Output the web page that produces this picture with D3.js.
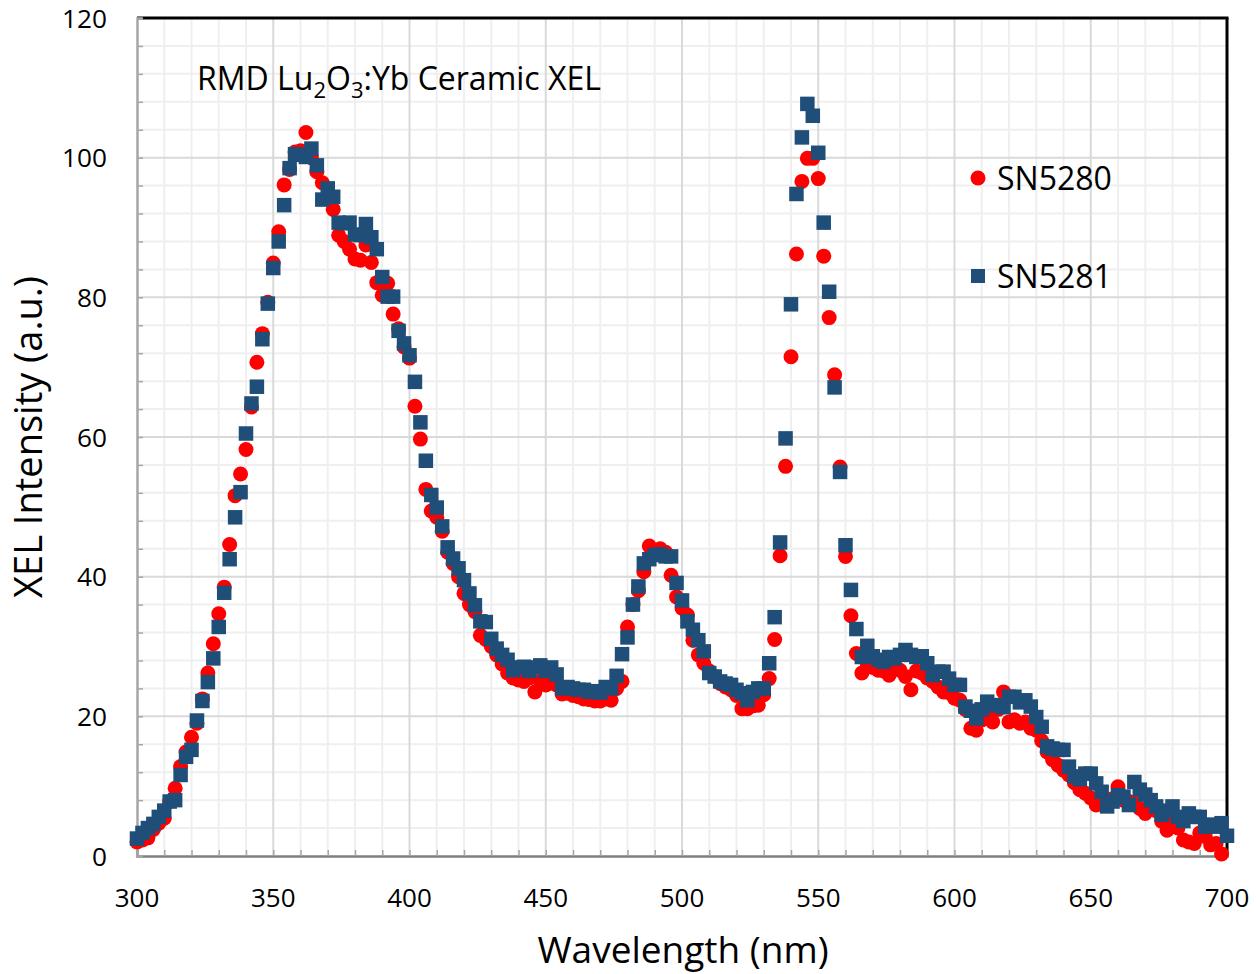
<!DOCTYPE html>
<html>
<head>
<meta charset="utf-8">
<script src="https://cdn.jsdelivr.net/npm/d3@7"></script>
<style>
  html, body { margin: 0; padding: 0; background: #fff; }
  svg { display: block; }
  text { font-family: "Open Sans", "Noto Sans", sans-serif; fill: #000; }
</style>
</head>
<body>
<svg id="chart" width="1256" height="974"></svg>
<script>
// XEL emission spectra, sampled every 2 nm from 300 nm
const startNm = 300;
const stepNm = 2;

const sn5280 = [
  2.0, 2.3, 2.6, 3.8, 4.7, 5.4, 7.8, 9.7, 12.8, 14.9,
  17.0, 19.0, 22.5, 26.2, 30.4, 34.7, 38.5, 44.6, 51.6, 54.7,
  58.2, 64.3, 70.7, 74.8, 79.3, 84.9, 89.4, 96.1, 98.3, 100.8,
  101.0, 103.6, 100.0, 98.0, 96.4, 94.5, 92.6, 88.9, 88.0, 86.9,
  85.5, 85.3, 87.5, 85.0, 82.1, 80.3, 82.0, 77.6, 75.5, 72.9,
  71.3, 64.4, 59.7, 52.5, 49.4, 48.5, 46.5, 43.5, 41.9, 40.0,
  37.6, 36.0, 35.0, 31.6, 31.0, 30.0, 28.8, 27.5, 26.2, 25.5,
  25.2, 25.0, 25.5, 23.5, 25.0, 24.5, 24.8, 24.5, 23.2, 23.3,
  23.0, 22.8, 22.5, 22.4, 22.2, 22.2, 22.5, 22.3, 24.0, 25.0,
  32.8, 36.0, 38.0, 40.7, 44.4, 43.5, 44.0, 43.5, 40.2, 37.1,
  35.5, 34.5, 30.9, 28.8, 27.6, 26.5, 25.7, 24.7, 24.2, 23.8,
  23.0, 21.1, 21.1, 21.5, 21.6, 23.1, 25.4, 31.0, 43.0, 55.8,
  71.5, 86.2, 96.6, 99.9, 99.9, 97.0, 85.9, 77.1, 68.9, 55.7,
  42.9, 34.4, 29.0, 26.2, 27.5, 27.0, 26.6, 26.5, 25.9, 26.8,
  26.6, 25.7, 23.8, 26.5, 26.2, 25.5, 25.0, 24.2, 23.5, 23.4,
  22.6, 22.3, 21.0, 18.3, 18.0, 19.5, 19.8, 19.2, 21.0, 23.5,
  19.2, 19.5, 19.0, 19.2, 18.3, 18.0, 16.5, 14.9, 13.8, 13.0,
  12.3, 11.6, 10.5, 9.5, 9.0, 8.3, 7.3, 7.8, 7.8, 8.2,
  9.9, 8.0, 7.8, 7.5, 6.8, 6.1, 6.8, 6.5, 5.0, 3.7,
  5.3, 4.0, 2.3, 2.0, 1.8, 3.3, 2.8, 1.6, 1.8, 0.3
];

const sn5281 = [
  2.5, 3.3, 4.0, 4.6, 5.6, 6.5, 7.8, 8.0, 11.6, 14.2,
  15.2, 19.4, 22.2, 24.9, 28.3, 32.8, 37.7, 42.5, 48.5, 52.1,
  60.5, 64.8, 67.2, 74.0, 79.1, 84.2, 88.0, 93.2, 98.5, 100.5,
  100.4, 100.1, 101.3, 98.9, 94.0, 95.6, 94.4, 90.7, 90.6, 90.7,
  89.0, 88.9, 90.5, 88.6, 86.9, 82.9, 80.1, 80.1, 75.2, 73.4,
  71.7, 67.9, 62.1, 56.6, 51.7, 49.9, 47.2, 44.2, 42.6, 41.2,
  39.5, 37.6, 35.9, 33.6, 33.5, 31.1, 29.7, 28.8, 28.1, 26.6,
  27.0, 27.1, 26.5, 27.0, 27.3, 26.5, 27.0, 26.0, 24.0, 24.2,
  24.0, 23.8, 23.8, 23.5, 23.6, 23.4, 24.2, 24.0, 25.8, 28.9,
  31.3, 36.0, 38.6, 41.9, 42.5, 43.1, 43.2, 42.9, 42.9, 39.1,
  36.6, 33.6, 32.4, 30.9, 29.3, 26.2, 25.7, 25.0, 24.7, 24.5,
  23.8, 23.3, 22.3, 23.5, 24.0, 24.0, 27.6, 34.2, 44.9, 59.8,
  79.0, 94.8, 102.9, 107.7, 106.0, 100.7, 90.7, 80.8, 67.1, 55.0,
  44.5, 38.1, 32.5, 28.5, 30.1, 28.6, 28.1, 27.8, 28.5, 28.3,
  28.8, 29.5, 28.8, 28.5, 28.6, 27.6, 25.9, 26.4, 26.4, 25.4,
  24.5, 24.5, 21.4, 20.8, 19.7, 21.0, 22.1, 21.6, 21.6, 21.3,
  22.8, 22.8, 22.0, 22.3, 21.4, 19.9, 18.5, 15.7, 15.4, 15.2,
  15.2, 12.8, 11.4, 11.0, 11.8, 11.8, 10.4, 9.2, 7.1, 7.8,
  8.7, 8.5, 7.3, 10.6, 9.5, 8.8, 8.0, 7.1, 5.9, 6.5,
  7.1, 5.6, 5.0, 6.1, 5.6, 5.6, 4.2, 4.5, 4.2, 4.7,
  2.9
];

const xTicks = [300, 350, 400, 450, 500, 550, 600, 650, 700];
const yTicks = [0, 20, 40, 60, 80, 100, 120];
const seriesNames = ["SN5280", "SN5281"];
const seriesColors = ["#ff0000", "#1f4e79"];

const svg = d3.select("#chart");
const plot = { left: 137, right: 1227, top: 18, bottom: 856 };

const x = d3.scaleLinear().domain([300, 700]).range([plot.left, plot.right]);
const y = d3.scaleLinear().domain([0, 120]).range([plot.bottom, plot.top]);

const toPoints = vals => vals.map((v, i) => ({ nm: startNm + i * stepNm, v }));

// minor grid
const grid = svg.append("g");
grid.selectAll("line.vminor").data(d3.range(310, 700, 10).filter(d => d % 50 !== 0))
  .join("line").attr("x1", d => x(d)).attr("x2", d => x(d))
  .attr("y1", plot.top).attr("y2", plot.bottom)
  .attr("stroke", "#efefef").attr("stroke-width", 2);
grid.selectAll("line.hminor").data(d3.range(4, 120, 4).filter(d => d % 20 !== 0))
  .join("line").attr("x1", plot.left).attr("x2", plot.right)
  .attr("y1", d => y(d)).attr("y2", d => y(d))
  .attr("stroke", "#efefef").attr("stroke-width", 2);

// major grid
grid.selectAll("line.vmajor").data(xTicks.filter(d => d > 300 && d < 700))
  .join("line").attr("x1", d => x(d)).attr("x2", d => x(d))
  .attr("y1", plot.top).attr("y2", plot.bottom)
  .attr("stroke", "#d9d9d9").attr("stroke-width", 2);
grid.selectAll("line.hmajor").data(yTicks.filter(d => d > 0 && d < 120))
  .join("line").attr("x1", plot.left).attr("x2", plot.right)
  .attr("y1", d => y(d)).attr("y2", d => y(d))
  .attr("stroke", "#d9d9d9").attr("stroke-width", 2);

// frame: top and right in black
svg.append("line").attr("x1", plot.left).attr("x2", plot.right + 1.5)
  .attr("y1", plot.top).attr("y2", plot.top)
  .attr("stroke", "#000").attr("stroke-width", 3);
svg.append("line").attr("x1", plot.right).attr("x2", plot.right)
  .attr("y1", plot.top).attr("y2", plot.bottom)
  .attr("stroke", "#000").attr("stroke-width", 3);

// axes with inward minor ticks
const xAxis = d3.axisBottom(x).tickValues(d3.range(300, 701, 10)).tickSize(-6).tickFormat("");
const yAxis = d3.axisLeft(y).tickValues(d3.range(0, 121, 4)).tickSize(-6).tickFormat("");

const gx = svg.append("g").attr("transform", `translate(0,${plot.bottom})`).call(xAxis);
gx.select(".domain").attr("stroke", "#7f7f7f").attr("stroke-width", 2.5);
gx.selectAll(".tick line").attr("stroke", "#a6a6a6").attr("stroke-width", 1.5);

const gy = svg.append("g").attr("transform", `translate(${plot.left},0)`).call(yAxis);
gy.select(".domain").attr("stroke", "#a6a6a6").attr("stroke-width", 2.5);
gy.selectAll(".tick line").attr("stroke", "#a6a6a6").attr("stroke-width", 1.5);

// tick labels
svg.append("g").selectAll("text").data(xTicks).join("text")
  .attr("x", d => x(d)).attr("y", 907)
  .attr("text-anchor", "middle").attr("font-size", 26)
  .text(d => d);
svg.append("g").selectAll("text").data(yTicks).join("text")
  .attr("x", 107).attr("y", d => y(d) + 9.5)
  .attr("text-anchor", "end").attr("font-size", 25)
  .attr("textLength", d => String(d).length * 15).attr("lengthAdjust", "spacingAndGlyphs")
  .text(d => d);

// axis titles
svg.append("text").attr("x", 683).attr("y", 963)
  .attr("text-anchor", "middle").attr("font-size", 37)
  .text("Wavelength (nm)");
svg.append("text")
  .attr("transform", "translate(42,437) rotate(-90)")
  .attr("text-anchor", "middle").attr("font-size", 38)
  .text("XEL  Intensity (a.u.)");

// chart annotation
const title = svg.append("text").attr("x", 197).attr("y", 90).attr("font-size", 32);
title.append("tspan").text("RMD Lu");
title.append("tspan").attr("font-size", 22).attr("dy", 8).text("2");
title.append("tspan").attr("dy", -8).text("O");
title.append("tspan").attr("font-size", 22).attr("dy", 8).text("3");
title.append("tspan").attr("dy", -8).text(":Yb Ceramic XEL");

// data markers: circles for SN5280, squares for SN5281 drawn on top
svg.append("g").selectAll("circle").data(toPoints(sn5280)).join("circle")
  .attr("cx", d => x(d.nm)).attr("cy", d => y(d.v)).attr("r", 7.5)
  .attr("fill", seriesColors[0]);

const sq = 14.5;
svg.append("g").selectAll("rect").data(toPoints(sn5281)).join("rect")
  .attr("x", d => x(d.nm) - sq / 2).attr("y", d => y(d.v) - sq / 2)
  .attr("width", sq).attr("height", sq)
  .attr("fill", seriesColors[1]);

// legend
const legend = svg.append("g");
legend.append("circle").attr("cx", 978).attr("cy", 178).attr("r", 7.5).attr("fill", seriesColors[0]);
legend.append("rect").attr("x", 971).attr("y", 269).attr("width", 14).attr("height", 14).attr("fill", seriesColors[1]);
legend.append("text").attr("x", 997).attr("y", 190).attr("font-size", 32).text(seriesNames[0]);
legend.append("text").attr("x", 997).attr("y", 288).attr("font-size", 32).text(seriesNames[1]);
</script>
</body>
</html>
